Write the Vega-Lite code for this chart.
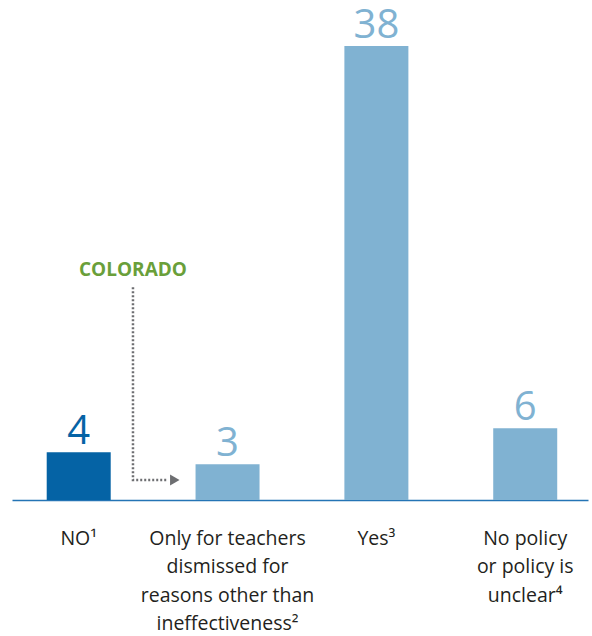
{
  "$schema": "https://vega.github.io/schema/vega-lite/v6.json",
  "width": 576,
  "height": 478,
  "autosize": {"type": "none"},
  "padding": {"left": 12, "top": 22, "right": 4, "bottom": 136},
  "background": "white",
  "config": {"view": {"stroke": null}, "font": "Open Sans"},
  "layer": [
    {
      "data": {"values": [
        {"cat": "NO¹", "label": "NO¹", "value": 4},
        {"cat": "Only for teachers", "label": "Only for teachers|dismissed for|reasons other than|ineffectiveness²", "value": 3},
        {"cat": "Yes³", "label": "Yes³", "value": 38},
        {"cat": "No policy", "label": "No policy|or policy is|unclear⁴", "value": 6}
      ]},
      "encoding": {
        "x": {"field": "cat", "type": "nominal", "sort": null,
          "scale": {"paddingInner": 0.57, "paddingOuter": 0.22, "align": 0.53},
          "axis": {"title": null, "labelAngle": 0, "ticks": false, "grid": false,
            "domainColor": "#2474b5", "domainWidth": 1.5,
            "labelFont": "Open Sans", "labelFontSize": 19.5, "labelColor": "#231f20",
            "labelLineHeight": 28.5, "labelPadding": 38, "labelBaseline": "middle",
            "labelExpr": "datum.label == 'NO¹' ? 'NO¹' : datum.label == 'Only for teachers' ? ['Only for teachers','dismissed for','reasons other than','ineffectiveness²'] : datum.label == 'Yes³' ? 'Yes³' : ['No policy','or policy is','unclear⁴']"}},
        "y": {"field": "value", "type": "quantitative", "scale": {"domain": [0, 40], "nice": false}, "axis": null}
      },
      "layer": [
        {"mark": {"type": "bar"},
          "encoding": {"color": {"condition": {"test": "datum.cat == 'NO¹'", "value": "#0563a5"}, "value": "#80b2d2"}}},
        {"mark": {"type": "text", "baseline": "alphabetic", "dy": -8, "fontSize": 40, "font": "Open Sans"},
          "encoding": {"text": {"field": "value"},
            "color": {"condition": {"test": "datum.cat == 'NO¹'", "value": "#0563a5"}, "value": "#80b2d2"}}}
      ]
    },
    {
      "data": {"values": [
        {"px": 0.364, "py": 17.8, "ord": 1},
        {"px": 0.364, "py": 1.67, "ord": 2},
        {"px": 0.6, "py": 1.67, "ord": 3}
      ]},
      "mark": {"type": "line", "stroke": "#6d6e71", "strokeWidth": 2.5, "strokeDash": [2, 2]},
      "encoding": {
        "x": {"field": "px", "type": "quantitative", "scale": {"domain": [-0.449, 3.422], "nice": false, "zero": false}, "axis": null},
        "y": {"field": "py", "type": "quantitative", "scale": {"domain": [0, 40], "nice": false}, "axis": null},
        "order": {"field": "ord"}
      }
    },
    {
      "data": {"values": [{"px": 0.645, "py": 1.67}]},
      "mark": {"type": "point", "shape": "triangle-right", "filled": true, "color": "#6d6e71", "size": 120, "opacity": 1},
      "encoding": {
        "x": {"field": "px", "type": "quantitative", "scale": {"domain": [-0.449, 3.422], "nice": false, "zero": false}, "axis": null},
        "y": {"field": "py", "type": "quantitative", "scale": {"domain": [0, 40], "nice": false}, "axis": null}
      }
    },
    {
      "data": {"values": [{"px": 0.364, "py": 19.25, "note": "COLORADO"}]},
      "mark": {"type": "text", "fontWeight": "bold", "fontSize": 19, "color": "#6a9f3a", "baseline": "middle", "font": "Open Sans"},
      "encoding": {
        "x": {"field": "px", "type": "quantitative", "scale": {"domain": [-0.449, 3.422], "nice": false, "zero": false}, "axis": null},
        "y": {"field": "py", "type": "quantitative", "scale": {"domain": [0, 40], "nice": false}, "axis": null},
        "text": {"field": "note"}
      }
    }
  ],
  "resolve": {"scale": {"x": "independent"}}
}
